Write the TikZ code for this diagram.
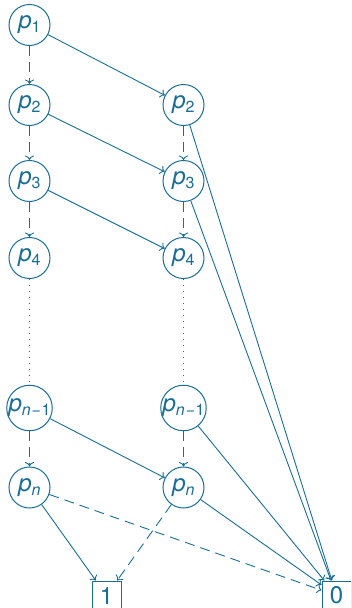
\documentclass[tikz,border=0pt]{standalone}
\usepackage{fontspec}
\setmainfont{TeX Gyre Heros}
\usetikzlibrary{arrows.meta}
\definecolor{ink}{RGB}{25,110,150}
\newcommand\pvar[1]{\textit{p}\raisebox{-4pt}{\fontsize{16}{16}\selectfont #1}}
\begin{document}
\begin{tikzpicture}[x=1pt,y=-1pt,
  every node/.style={text=ink, font=\fontsize{24}{27}\selectfont},
  pnode/.style={circle, draw=ink, line width=1pt, minimum size=41pt, inner sep=0pt},
  leaf/.style={rectangle, draw=ink, line width=1pt, minimum width=29pt, minimum height=29pt, inner sep=0pt},
  hi/.style={draw=ink, line width=0.9pt, -{To[length=4.5pt,width=9pt]}},
  lo/.style={draw=ink, line width=0.9pt, dash pattern=on 10pt off 6pt, -{To[length=4.5pt,width=9pt]}},
  gap/.style={draw=ink, line width=0.9pt, dash pattern=on 1pt off 5pt}]
\useasboundingbox (0,0) rectangle (351,608);
\clip (0,0) rectangle (351,608);
\node[pnode] (L1) at (29.5,25) {\pvar{1}};
\node[pnode] (L2) at (29.5,105) {\pvar{2}};
\node[pnode] (L3) at (29.5,181) {\pvar{3}};
\node[pnode] (L4) at (29.5,258) {\pvar{4}};
\node[pnode] (Ln1) at (29.5,408) {\pvar{\textit{n}\kern1pt−\kern0.5pt1}};
\node[pnode] (Ln) at (29.5,487.5) {\pvar{\textit{n}}};
\node[pnode] (R2) at (183.5,105) {\pvar{2}};
\node[pnode] (R3) at (183.5,181) {\pvar{3}};
\node[pnode] (R4) at (183.5,258) {\pvar{4}};
\node[pnode] (Rn1) at (183.5,408) {\pvar{\textit{n}\kern1pt−\kern0.5pt1}};
\node[pnode] (Rn) at (183.5,487.5) {\pvar{\textit{n}}};
\node[leaf] (one) at (106.5,595.5) {1};
\node[leaf] (zero) at (336.5,595.5) {0};
% left column low edges
\draw[lo] (L1) -- (L2);
\draw[lo] (L2) -- (L3);
\draw[lo] (L3) -- (L4);
\draw[gap] (L4) -- (Ln1);
\draw[lo] (Ln1) -- (Ln);
% right column low edges
\draw[lo] (R2) -- (R3);
\draw[lo] (R3) -- (R4);
\draw[gap] (R4) -- (Rn1);
\draw[lo] (Rn1) -- (Rn);
% high edges
\draw[hi] (L1) -- (R2);
\draw[hi] (L2) -- (R3);
\draw[hi] (L3) -- (R4);
\draw[hi] (Ln1) -- (Rn);
\draw[hi] (R2) -- (zero);
\draw[hi] (R3) -- (zero);
\draw[hi] (Rn1) -- (zero);
\draw[hi] (Rn) -- (zero);
\draw[hi] (Ln) -- (one);
\draw[lo] (Ln) -- (zero);
\draw[lo] (Rn) -- (one);
\end{tikzpicture}
\end{document}
